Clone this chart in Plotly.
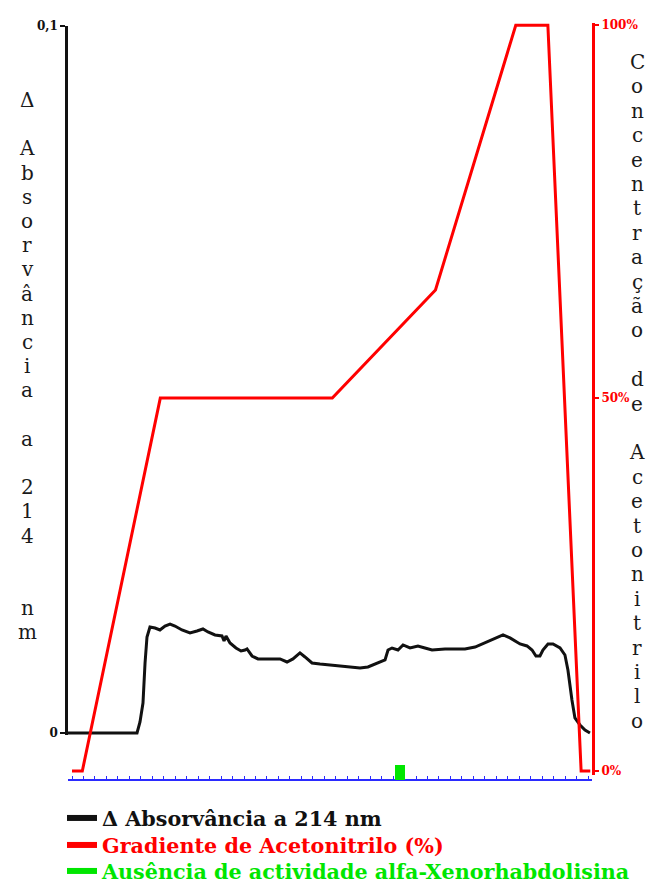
import plotly.graph_objects as go

# ---- data -------------------------------------------------------------
# elution time (min) and absorbance change at 214 nm
abs_time = [-0.52, 5.67, 5.93, 6.19, 6.37, 6.54, 6.80, 7.24, 7.67, 8.11, 8.55, 8.98,
            9.59, 10.29, 10.90, 11.42, 11.86, 12.47, 13.08, 13.26, 13.43, 13.78,
            14.30, 14.74, 15.09, 15.26, 15.70, 16.22, 18.14, 18.75, 19.27, 19.88,
            20.32, 20.93, 21.63, 23.37, 25.12, 25.81, 26.42, 27.30, 27.56, 27.91,
            28.43, 28.87, 29.48, 30.17, 30.78, 31.40, 32.53, 33.40, 34.27, 35.15,
            35.58, 36.45, 37.59, 38.20, 39.07, 39.68, 40.12, 40.46, 40.81, 41.07,
            41.51, 41.95, 42.56, 42.99, 43.25, 43.60, 43.86, 44.30, 44.74, 45.17]
abs_value = [0, 0, 0.00156, 0.00424, 0.0099, 0.01358, 0.01499, 0.01485, 0.01457,
             0.01513, 0.01541, 0.01513, 0.01457, 0.01414, 0.01443, 0.01471, 0.01429,
             0.01386, 0.01372, 0.01301, 0.01372, 0.01273, 0.01202, 0.0116, 0.01174,
             0.01188, 0.01089, 0.01047, 0.01047, 0.01004, 0.01047, 0.01132, 0.01075,
             0.0099, 0.00976, 0.00948, 0.00919, 0.00934, 0.00976, 0.01033, 0.01174,
             0.01202, 0.01174, 0.01245, 0.01202, 0.01231, 0.01202, 0.01174, 0.01188,
             0.01188, 0.01188, 0.01216, 0.01245, 0.01315, 0.01386, 0.01344, 0.01259,
             0.01231, 0.01174, 0.01089, 0.01089, 0.01174, 0.01259, 0.01259, 0.01202,
             0.01103, 0.00891, 0.00467, 0.00212, 0.00113, 0.00042, 0]

# acetonitrile gradient programme (min, %)
grad_time = [0, 0.9, 7.7, 22.7, 31.7, 38.7, 41.5, 44.4, 45.2]
grad_pct = [0, 0, 50, 50, 64.5, 100, 100, 0, 0]

# fraction tested without alfa-Xenorhabdolisin activity
inactive_time = [28.6]
inactive_flag = [1]

abs_ticks = [0, 0.1]
abs_ticktext = ["0", "0,1"]
pct_ticks = [0, 50, 100]
pct_ticktext = ["0%", "50%", "100%"]

left_title = ["Δ", "", "A", "b", "s", "o", "r", "v", "â", "n", "c", "i", "a", "",
              "a", "", "2", "1", "4", "", "", "n", "m"]
right_title = list("Concentração") + [""] + list("de") + [""] + list("Acetonitrilo")

legend_names = ["Δ Absorvância a 214 nm", "Gradiente de Acetonitrilo (%)",
                "Ausência de actividade alfa-Xenorhabdolisina"]

# ---- layout geometry (pixels) -----------------------------------------
W, H = 651, 884
L, R, T, B = 68, 59, 23, 104
plot_w = W - L - R
plot_h = H - T - B
plot_bottom = H - B


def py(p):
    """page pixel row -> paper fraction"""
    return (plot_bottom - p) / plot_h


def px(p):
    """page pixel column -> paper fraction"""
    return (p - L) / plot_w


BLACK = "#111111"
RED = "#ff0000"
GREEN = "#00e600"
BLUE = "#2b2bff"
SERIF = "DejaVu Serif"

fig = go.Figure()

fig.add_trace(go.Scatter(x=grad_time, y=grad_pct, mode="lines", yaxis="y2",
                         line=dict(color=RED, width=3), showlegend=False))
fig.add_trace(go.Scatter(x=abs_time, y=abs_value, mode="lines", yaxis="y",
                         line=dict(color=BLACK, width=3), showlegend=False))
fig.add_trace(go.Bar(x=inactive_time, y=inactive_flag, width=0.85, yaxis="y3",
                     marker=dict(color=GREEN, line=dict(width=0)), showlegend=False))

# legend entries with thick swatches, one legend box per row
legend_ids = ["legend", "legend2", "legend3"]
legend_rows = [818, 845, 871]
legend_colors = [BLACK, RED, GREEN]
for name, col, lid in zip(legend_names, legend_colors, legend_ids):
    fig.add_trace(go.Scatter(x=[None], y=[None], mode="lines", name=name,
                             legend=lid, line=dict(color=col, width=6)))

legend_style = {}
for lid, row, col in zip(legend_ids, legend_rows, legend_colors):
    legend_style[lid] = dict(x=px(62), xanchor="left", y=py(row), yanchor="middle",
                             font=dict(family=SERIF, size=20.7, color=col,
                                       weight="bold"),
                             bgcolor="rgba(0,0,0,0)", itemwidth=30,
                             borderwidth=0)

fig.update_layout(
    width=W, height=H,
    margin=dict(l=L, r=R, t=T, b=B, autoexpand=False),
    paper_bgcolor="white", plot_bgcolor="rgba(0,0,0,0)",
    showlegend=True,
    **legend_style,
    xaxis=dict(range=[-0.349, 45.349], domain=[0, 1], anchor="free", position=0,
               showline=True, linecolor=BLUE, linewidth=2,
               ticks="inside", ticklen=3, tickwidth=1, tickcolor=BLUE,
               tick0=0, dtick=1, showticklabels=False, showgrid=False,
               zeroline=False),
    yaxis=dict(range=[-0.0003, 0.1], domain=[py(735.1), py(26)], anchor="x",
               showline=True, linecolor=BLACK, linewidth=2.5,
               ticks="outside", ticklen=5, tickwidth=2, tickcolor=BLACK,
               tickvals=abs_ticks, ticktext=abs_ticktext,
               tickfont=dict(family=SERIF, size=12, color=BLACK, weight="bold"),
               showgrid=False, zeroline=False),
    yaxis2=dict(range=[-0.5, 100.3], domain=[py(774.7), 1], anchor="x",
                side="right",
                showline=True, linecolor=RED, linewidth=3,
                ticks="outside", ticklen=4, tickwidth=2, tickcolor=RED,
                tickvals=pct_ticks, ticktext=pct_ticktext,
                tickfont=dict(family=SERIF, size=12, color=RED, weight="bold"),
                showgrid=False, zeroline=False),
    yaxis3=dict(range=[0, 1], domain=[0, py(765)], anchor="x",
                visible=False, showgrid=False, zeroline=False),
    bargap=0,
)

# stacked-letter axis titles
annotations = []
for i, ch in enumerate(left_title):
    if ch:
        annotations.append(dict(x=px(27), xref="paper", y=py(100 + i * 24.2),
                                yref="paper", text=ch, showarrow=False,
                                xanchor="center", yanchor="middle",
                                font=dict(family=SERIF, size=20, color="#1a1a1a")))
for i, ch in enumerate(right_title):
    if ch:
        annotations.append(dict(x=px(637), xref="paper", y=py(62 + i * 24.4),
                                yref="paper", text=ch, showarrow=False,
                                xanchor="center", yanchor="middle",
                                font=dict(family=SERIF, size=20, color="#1a1a1a")))
fig.update_layout(annotations=annotations)

fig.write_html("out.html")
